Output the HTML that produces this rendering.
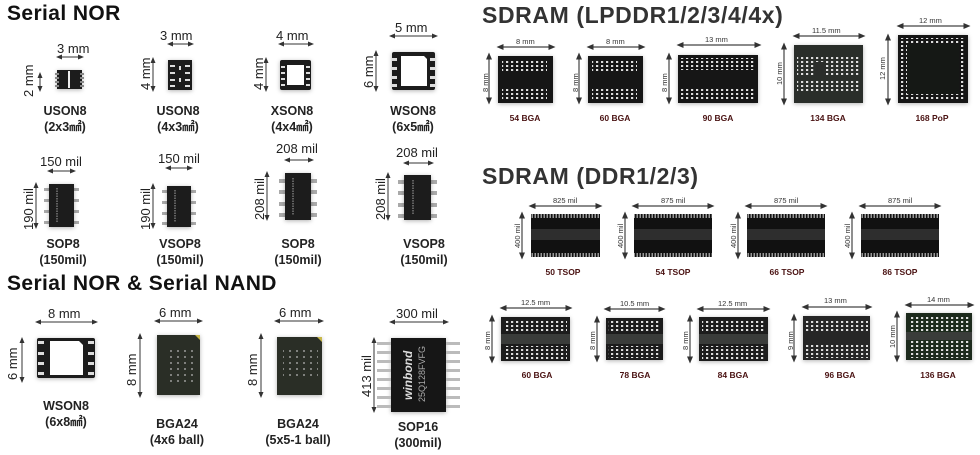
<!DOCTYPE html>
<html><head><meta charset="utf-8"><style>
html,body{margin:0;padding:0;background:#fff;width:980px;height:455px;overflow:hidden}
svg{display:block}
.t{font-family:"Liberation Sans","DejaVu Sans",sans-serif;font-weight:bold;fill:#111}
.d{font-family:"Liberation Sans",sans-serif;font-size:13px;fill:#222}
.n{font-family:"Liberation Sans","Noto Sans CJK JP",sans-serif;font-size:12.5px;font-weight:bold;fill:#222;text-anchor:middle}
.s{font-family:"Liberation Sans",sans-serif;font-size:7.5px;fill:#333}
.b{font-family:"Liberation Sans",sans-serif;font-size:8.5px;font-weight:bold;fill:#4a1212;text-anchor:middle}
.ar{stroke:#333;stroke-width:1;marker-start:url(#m);marker-end:url(#m)}
.ar2{stroke:#444;stroke-width:1.2;marker-start:url(#m2);marker-end:url(#m2)}
</style></head><body>
<svg width="980" height="455" viewBox="0 0 980 455" xmlns="http://www.w3.org/2000/svg">
<defs>
<marker id="m" markerWidth="6" markerHeight="6" refX="3" refY="3" orient="auto-start-reverse" markerUnits="userSpaceOnUse"><path d="M0,0.5 L6,3 L0,5.5z" fill="#333"/></marker>
<marker id="m2" markerWidth="7" markerHeight="7" refX="3.5" refY="3.5" orient="auto-start-reverse" markerUnits="userSpaceOnUse"><path d="M0,0.5 L7,3.5 L0,6.5z" fill="#333"/></marker>
<pattern id="dots" width="5" height="4" patternUnits="userSpaceOnUse"><rect x="1" y="1" width="2.2" height="2" fill="#ddd"/></pattern>
<pattern id="dots2" width="7" height="6" patternUnits="userSpaceOnUse"><circle cx="3" cy="3" r="0.9" fill="#bbb"/></pattern>
<pattern id="pins" width="3" height="4" patternUnits="userSpaceOnUse"><rect x="0.5" y="0" width="1.5" height="4" fill="#999"/></pattern>
<filter id="sh" x="-20%" y="-20%" width="140%" height="140%"><feDropShadow dx="0" dy="1" stdDeviation="2" flood-color="#000" flood-opacity="0.3"/></filter>
</defs>

<!-- Titles -->
<text class="t" x="7" y="20" font-size="21" letter-spacing="0.4">Serial NOR</text>
<text class="t" x="7" y="290" font-size="21" letter-spacing="0.4">Serial NOR &amp; Serial NAND</text>
<text class="t" x="482" y="23" font-size="23" letter-spacing="0.6" style="fill:#333">SDRAM (LPDDR1/2/3/4/4x)</text>
<text class="t" x="482" y="184" font-size="23" letter-spacing="0.6" style="fill:#333">SDRAM (DDR1/2/3)</text>

<!-- ===== Serial NOR row 1 ===== -->
<g filter="url(#sh)">
<rect x="57" y="70" width="25" height="19" fill="#1a1a1a"/>
<rect x="168" y="60" width="24" height="30" fill="#1a1a1a"/>
<rect x="280" y="60" width="31" height="30" rx="2" fill="#1a1a1a"/>
<rect x="392" y="52" width="43" height="38" rx="2" fill="#1a1a1a"/>
</g>
<rect x="68" y="71" width="2" height="17" fill="#eee"/>
<g fill="#888"><rect x="55" y="73" width="4" height="2"/><rect x="55" y="77" width="4" height="2"/><rect x="55" y="81" width="4" height="2"/><rect x="55" y="85" width="4" height="2"/><rect x="80" y="73" width="4" height="2"/><rect x="80" y="77" width="4" height="2"/><rect x="80" y="81" width="4" height="2"/><rect x="80" y="85" width="4" height="2"/></g>
<g fill="#ddd"><rect x="170" y="65" width="5" height="2"/><rect x="170" y="72" width="5" height="2"/><rect x="170" y="79" width="5" height="2"/><rect x="170" y="85" width="5" height="2"/><rect x="185" y="65" width="5" height="2"/><rect x="185" y="72" width="5" height="2"/><rect x="185" y="79" width="5" height="2"/><rect x="185" y="85" width="5" height="2"/><rect x="179" y="66" width="2" height="4"/><rect x="179" y="78" width="2" height="4"/></g>
<rect x="287" y="65" width="17" height="20" fill="#fff"/>
<g fill="#ddd"><rect x="281" y="66" width="4" height="2"/><rect x="281" y="72" width="4" height="2"/><rect x="281" y="78" width="4" height="2"/><rect x="281" y="84" width="4" height="2"/><rect x="306" y="66" width="4" height="2"/><rect x="306" y="72" width="4" height="2"/><rect x="306" y="78" width="4" height="2"/><rect x="306" y="84" width="4" height="2"/></g>
<path d="M401,56 H424 L427,59 V86 H401z" fill="#fff"/>
<g fill="#ddd"><rect x="392" y="58" width="5" height="3"/><rect x="392" y="67" width="5" height="3"/><rect x="392" y="76" width="5" height="3"/><rect x="392" y="84" width="5" height="3"/><rect x="430" y="58" width="5" height="3"/><rect x="430" y="67" width="5" height="3"/><rect x="430" y="76" width="5" height="3"/><rect x="430" y="84" width="5" height="3"/></g>

<text class="d" x="57" y="53">3 mm</text><line class="ar" x1="59" y1="57" x2="81" y2="57"/>
<text class="d" transform="translate(33,97) rotate(-90)">2 mm</text><line class="ar" x1="40" y1="75" x2="40" y2="89"/>
<text class="d" x="160" y="40">3 mm</text><line class="ar" x1="170" y1="44" x2="191" y2="44"/>
<text class="d" transform="translate(150,90) rotate(-90)">4 mm</text><line class="ar" x1="153" y1="60" x2="153" y2="89"/>
<text class="d" x="276" y="40">4 mm</text><line class="ar" x1="281" y1="44" x2="311" y2="44"/>
<text class="d" transform="translate(263,90) rotate(-90)">4 mm</text><line class="ar" x1="266" y1="60" x2="266" y2="89"/>
<text class="d" x="395" y="32">5 mm</text><line class="ar" x1="392" y1="36" x2="435" y2="36"/>
<text class="d" transform="translate(373,88) rotate(-90)">6 mm</text><line class="ar" x1="376" y1="53" x2="376" y2="89"/>

<text class="n" x="65" y="115">USON8</text><text class="n" x="65" y="131">(2x3㎟)</text>
<text class="n" x="178" y="115">USON8</text><text class="n" x="178" y="131">(4x3㎟)</text>
<text class="n" x="292" y="115">XSON8</text><text class="n" x="292" y="131">(4x4㎟)</text>
<text class="n" x="413" y="115">WSON8</text><text class="n" x="413" y="131">(6x5㎟)</text>

<!-- ===== Serial NOR row 2 (SOP) ===== -->
<g fill="#aaa">
<rect x="44" y="188" width="6" height="3"/><rect x="44" y="199" width="6" height="3"/><rect x="44" y="210" width="6" height="3"/><rect x="44" y="221" width="6" height="3"/>
<rect x="73" y="188" width="6" height="3"/><rect x="73" y="199" width="6" height="3"/><rect x="73" y="210" width="6" height="3"/><rect x="73" y="221" width="6" height="3"/>
<rect x="162" y="190" width="6" height="3"/><rect x="162" y="201" width="6" height="3"/><rect x="162" y="212" width="6" height="3"/><rect x="162" y="222" width="6" height="3"/>
<rect x="190" y="190" width="6" height="3"/><rect x="190" y="201" width="6" height="3"/><rect x="190" y="212" width="6" height="3"/><rect x="190" y="222" width="6" height="3"/>
<rect x="279" y="179" width="7" height="4"/><rect x="279" y="190" width="7" height="4"/><rect x="279" y="202" width="7" height="4"/><rect x="279" y="213" width="7" height="4"/>
<rect x="310" y="179" width="7" height="4"/><rect x="310" y="190" width="7" height="4"/><rect x="310" y="202" width="7" height="4"/><rect x="310" y="213" width="7" height="4"/>
<rect x="398" y="180" width="7" height="4"/><rect x="398" y="191" width="7" height="4"/><rect x="398" y="203" width="7" height="4"/><rect x="398" y="214" width="7" height="4"/>
<rect x="430" y="180" width="7" height="4"/><rect x="430" y="191" width="7" height="4"/><rect x="430" y="203" width="7" height="4"/><rect x="430" y="214" width="7" height="4"/>
</g>
<g filter="url(#sh)">
<rect x="49" y="184" width="25" height="43" fill="#1c1c1c"/>
<rect x="167" y="186" width="24" height="41" fill="#1c1c1c"/>
<rect x="285" y="173" width="26" height="47" fill="#1c1c1c"/>
<rect x="404" y="175" width="27" height="45" fill="#1c1c1c"/>
</g>
<g stroke="#777" stroke-width="1.5" stroke-dasharray="1.5 1"><line x1="57" y1="188" x2="57" y2="222"/><line x1="175" y1="190" x2="175" y2="222"/><line x1="293" y1="178" x2="293" y2="215"/><line x1="413" y1="180" x2="413" y2="215"/></g>

<text class="d" x="40" y="166">150 mil</text><line class="ar" x1="50" y1="171" x2="73" y2="171"/>
<text class="d" transform="translate(33,230) rotate(-90)">190 mil</text><line class="ar" x1="36" y1="185" x2="36" y2="226"/>
<text class="d" x="158" y="163">150 mil</text><line class="ar" x1="168" y1="168" x2="190" y2="168"/>
<text class="d" transform="translate(150,230) rotate(-90)">190 mil</text><line class="ar" x1="153" y1="186" x2="153" y2="226"/>
<text class="d" x="276" y="153">208 mil</text><line class="ar" x1="287" y1="160" x2="311" y2="160"/>
<text class="d" transform="translate(264,220) rotate(-90)">208 mil</text><line class="ar" x1="267" y1="174" x2="267" y2="218"/>
<text class="d" x="396" y="157">208 mil</text><line class="ar" x1="406" y1="163" x2="431" y2="163"/>
<text class="d" transform="translate(385,220) rotate(-90)">208 mil</text><line class="ar" x1="388" y1="175" x2="388" y2="218"/>

<text class="n" x="63" y="248">SOP8</text><text class="n" x="63" y="264">(150mil)</text>
<text class="n" x="180" y="248">VSOP8</text><text class="n" x="180" y="264">(150mil)</text>
<text class="n" x="298" y="248">SOP8</text><text class="n" x="298" y="264">(150mil)</text>
<text class="n" x="424" y="248">VSOP8</text><text class="n" x="424" y="264">(150mil)</text>

<!-- ===== Serial NOR & NAND ===== -->
<g filter="url(#sh)">
<rect x="37" y="338" width="58" height="40" rx="2" fill="#1a1a1a"/>
<rect x="157" y="335" width="43" height="60" fill="#2a2e28"/>
<rect x="277" y="337" width="45" height="58" fill="#2a2e28"/>
<rect x="391" y="338" width="55" height="74" fill="#181818"/>
</g>
<path d="M50,341 H79 L83,345 V375 H50z" fill="#fff"/>
<g fill="#ddd"><rect x="38" y="341" width="6" height="3"/><rect x="38" y="352" width="6" height="3"/><rect x="38" y="362" width="6" height="3"/><rect x="38" y="372" width="6" height="3"/><rect x="88" y="341" width="6" height="3"/><rect x="88" y="352" width="6" height="3"/><rect x="88" y="362" width="6" height="3"/><rect x="88" y="372" width="6" height="3"/></g>
<rect x="165" y="346" width="28" height="36" fill="url(#dots2)"/>
<rect x="283" y="348" width="35" height="30" fill="url(#dots2)"/>
<path d="M195,335 H200 V340z" fill="#c8b84a"/><path d="M317,337 H322 V342z" fill="#c8b84a"/>
<g fill="#bbb">
<rect x="377" y="342" width="14" height="3"/><rect x="377" y="351" width="14" height="3"/><rect x="377" y="360" width="14" height="3"/><rect x="377" y="369" width="14" height="3"/><rect x="377" y="378" width="14" height="3"/><rect x="377" y="387" width="14" height="3"/><rect x="377" y="396" width="14" height="3"/><rect x="377" y="405" width="14" height="3"/>
<rect x="446" y="342" width="14" height="3"/><rect x="446" y="351" width="14" height="3"/><rect x="446" y="360" width="14" height="3"/><rect x="446" y="369" width="14" height="3"/><rect x="446" y="378" width="14" height="3"/><rect x="446" y="387" width="14" height="3"/><rect x="446" y="396" width="14" height="3"/><rect x="446" y="405" width="14" height="3"/>
</g>
<text transform="translate(412,400) rotate(-90)" font-family="Liberation Sans,sans-serif" font-size="12" font-weight="bold" font-style="italic" fill="#ddd">winbond</text>
<text transform="translate(425,402) rotate(-90)" font-family="Liberation Sans,sans-serif" font-size="9" fill="#aaa">25Q128FVFG</text>

<text class="d" x="48" y="318">8 mm</text><line class="ar" x1="38" y1="322" x2="95" y2="322"/>
<text class="d" transform="translate(17,380) rotate(-90)">6 mm</text><line class="ar" x1="22" y1="340" x2="22" y2="380"/>
<text class="d" x="159" y="317">6 mm</text><line class="ar" x1="157" y1="321" x2="200" y2="321"/>
<text class="d" transform="translate(136,386) rotate(-90)">8 mm</text><line class="ar" x1="140" y1="336" x2="140" y2="395"/>
<text class="d" x="279" y="317">6 mm</text><line class="ar" x1="277" y1="321" x2="321" y2="321"/>
<text class="d" transform="translate(257,386) rotate(-90)">8 mm</text><line class="ar" x1="261" y1="336" x2="261" y2="395"/>
<text class="d" x="396" y="318">300 mil</text><line class="ar" x1="392" y1="322" x2="446" y2="322"/>
<text class="d" transform="translate(371,397) rotate(-90)">413 mil</text><line class="ar" x1="374" y1="340" x2="374" y2="410"/>

<text class="n" x="66" y="410">WSON8</text><text class="n" x="66" y="426">(6x8㎟)</text>
<text class="n" x="177" y="428">BGA24</text><text class="n" x="177" y="444">(4x6 ball)</text>
<text class="n" x="298" y="428">BGA24</text><text class="n" x="298" y="444">(5x5-1 ball)</text>
<text class="n" x="418" y="431">SOP16</text><text class="n" x="418" y="447">(300mil)</text>

<!-- ===== LPDDR ===== -->
<g filter="url(#sh)">
<rect x="498" y="56" width="55" height="47" fill="#141714"/>
<rect x="588" y="56" width="55" height="47" fill="#141714"/>
<rect x="678" y="55" width="80" height="48" fill="#141714"/>
<rect x="794" y="45" width="69" height="58" fill="#2a2d2a"/>
<rect x="898" y="35" width="70" height="68" fill="#151815"/>
</g>
<rect x="502" y="59" width="45" height="13" fill="url(#dots)"/><rect x="502" y="87" width="45" height="13" fill="url(#dots)"/>
<rect x="592" y="59" width="45" height="13" fill="url(#dots)"/><rect x="592" y="87" width="45" height="13" fill="url(#dots)"/>
<rect x="681" y="58" width="75" height="12" fill="url(#dots)"/><rect x="681" y="87" width="75" height="13" fill="url(#dots)"/>
<rect x="797" y="55" width="62" height="21" fill="url(#dots)"/><rect x="797" y="80" width="62" height="13" fill="url(#dots)"/>
<rect x="814" y="62" width="12" height="14" fill="#2a2d2a"/>
<rect x="901" y="38" width="64" height="62" fill="url(#dots)"/><rect x="907" y="44" width="52" height="50" fill="#151815"/>

<line class="ar2" x1="500" y1="47" x2="552" y2="47"/><text class="s" x="516" y="44">8 mm</text>
<line class="ar2" x1="489" y1="56" x2="489" y2="101"/><text class="s" transform="translate(488,92) rotate(-90)">8 mm</text>
<line class="ar2" x1="590" y1="47" x2="642" y2="47"/><text class="s" x="606" y="44">8 mm</text>
<line class="ar2" x1="579" y1="56" x2="579" y2="101"/><text class="s" transform="translate(578,92) rotate(-90)">8 mm</text>
<line class="ar2" x1="680" y1="45" x2="758" y2="45"/><text class="s" x="705" y="42">13 mm</text>
<line class="ar2" x1="669" y1="56" x2="669" y2="101"/><text class="s" transform="translate(667,92) rotate(-90)">8 mm</text>
<line class="ar2" x1="796" y1="36" x2="862" y2="36"/><text class="s" x="812" y="33">11.5 mm</text>
<line class="ar2" x1="784" y1="46" x2="784" y2="102"/><text class="s" transform="translate(782,85) rotate(-90)">10 mm</text>
<line class="ar2" x1="900" y1="26" x2="967" y2="26"/><text class="s" x="919" y="23">12 mm</text>
<line class="ar2" x1="888" y1="37" x2="888" y2="102"/><text class="s" transform="translate(885,80) rotate(-90)">12 mm</text>

<text class="b" x="525" y="121">54 BGA</text>
<text class="b" x="615" y="121">60 BGA</text>
<text class="b" x="718" y="121">90 BGA</text>
<text class="b" x="828" y="121">134 BGA</text>
<text class="b" x="932" y="121">168 PoP</text>

<!-- ===== DDR TSOP ===== -->
<g>
<rect x="531" y="214" width="69" height="43" fill="#111"/>
<rect x="634" y="214" width="78" height="43" fill="#111"/>
<rect x="747" y="214" width="78" height="43" fill="#111"/>
<rect x="861" y="214" width="78" height="43" fill="#111"/>
</g>
<g fill="#2e2e2e"><rect x="531" y="229" width="69" height="11"/><rect x="634" y="229" width="78" height="11"/><rect x="747" y="229" width="78" height="11"/><rect x="861" y="229" width="78" height="11"/></g>
<g fill="url(#pins)"><rect x="531" y="214" width="69" height="4"/><rect x="531" y="253" width="69" height="4"/><rect x="634" y="214" width="78" height="4"/><rect x="634" y="253" width="78" height="4"/><rect x="747" y="214" width="78" height="4"/><rect x="747" y="253" width="78" height="4"/><rect x="861" y="214" width="78" height="4"/><rect x="861" y="253" width="78" height="4"/></g>

<line class="ar2" x1="532" y1="206" x2="599" y2="206"/><text class="s" x="553" y="203">825 mil</text>
<line class="ar2" x1="522" y1="215" x2="522" y2="256"/><text class="s" transform="translate(520,248) rotate(-90)">400 mil</text>
<line class="ar2" x1="635" y1="206" x2="711" y2="206"/><text class="s" x="661" y="203">875 mil</text>
<line class="ar2" x1="625" y1="215" x2="625" y2="256"/><text class="s" transform="translate(623,248) rotate(-90)">400 mil</text>
<line class="ar2" x1="748" y1="206" x2="824" y2="206"/><text class="s" x="774" y="203">875 mil</text>
<line class="ar2" x1="738" y1="215" x2="738" y2="256"/><text class="s" transform="translate(736,248) rotate(-90)">400 mil</text>
<line class="ar2" x1="862" y1="206" x2="938" y2="206"/><text class="s" x="888" y="203">875 mil</text>
<line class="ar2" x1="852" y1="215" x2="852" y2="256"/><text class="s" transform="translate(850,248) rotate(-90)">400 mil</text>

<text class="b" x="563" y="275">50 TSOP</text>
<text class="b" x="673" y="275">54 TSOP</text>
<text class="b" x="787" y="275">66 TSOP</text>
<text class="b" x="900" y="275">86 TSOP</text>

<!-- ===== DDR BGA ===== -->
<g filter="url(#sh)">
<rect x="501" y="317" width="69" height="44" fill="#1c1e1c"/>
<rect x="606" y="318" width="57" height="42" fill="#1c1e1c"/>
<rect x="699" y="317" width="69" height="44" fill="#1c1e1c"/>
<rect x="803" y="316" width="67" height="44" fill="#262826"/>
<rect x="906" y="313" width="66" height="47" fill="#1a2a1e"/>
</g>
<g fill="url(#dots)">
<rect x="504" y="320" width="63" height="13"/><rect x="504" y="346" width="63" height="13"/>
<rect x="608" y="320" width="53" height="13"/><rect x="608" y="346" width="53" height="12"/>
<rect x="702" y="320" width="63" height="13"/><rect x="702" y="346" width="63" height="13"/>
<rect x="806" y="320" width="62" height="12"/><rect x="806" y="345" width="62" height="13"/>
<rect x="909" y="316" width="61" height="15"/><rect x="909" y="341" width="61" height="17"/>
</g>
<g fill="#3a3c3a"><rect x="501" y="334" width="69" height="10"/><rect x="606" y="334" width="57" height="10"/><rect x="699" y="334" width="69" height="10"/><rect x="906" y="332" width="66" height="8"/></g>

<line class="ar2" x1="503" y1="308" x2="569" y2="308"/><text class="s" x="521" y="305">12.5 mm</text>
<line class="ar2" x1="492" y1="318" x2="492" y2="360"/><text class="s" transform="translate(490,350) rotate(-90)">8 mm</text>
<line class="ar2" x1="607" y1="309" x2="662" y2="309"/><text class="s" x="620" y="306">10.5 mm</text>
<line class="ar2" x1="597" y1="319" x2="597" y2="359"/><text class="s" transform="translate(595,350) rotate(-90)">8 mm</text>
<line class="ar2" x1="700" y1="309" x2="767" y2="309"/><text class="s" x="718" y="306">12.5 mm</text>
<line class="ar2" x1="690" y1="318" x2="690" y2="360"/><text class="s" transform="translate(688,350) rotate(-90)">8 mm</text>
<line class="ar2" x1="805" y1="307" x2="869" y2="307"/><text class="s" x="824" y="303">13 mm</text>
<line class="ar2" x1="794" y1="317" x2="794" y2="359"/><text class="s" transform="translate(793,350) rotate(-90)">9 mm</text>
<line class="ar2" x1="908" y1="305" x2="971" y2="305"/><text class="s" x="927" y="302">14 mm</text>
<line class="ar2" x1="897" y1="314" x2="897" y2="359"/><text class="s" transform="translate(895,348) rotate(-90)">10 mm</text>

<text class="b" x="537" y="378">60 BGA</text>
<text class="b" x="635" y="378">78 BGA</text>
<text class="b" x="733" y="378">84 BGA</text>
<text class="b" x="840" y="378">96 BGA</text>
<text class="b" x="938" y="378">136 BGA</text>
</svg>
</body></html>
